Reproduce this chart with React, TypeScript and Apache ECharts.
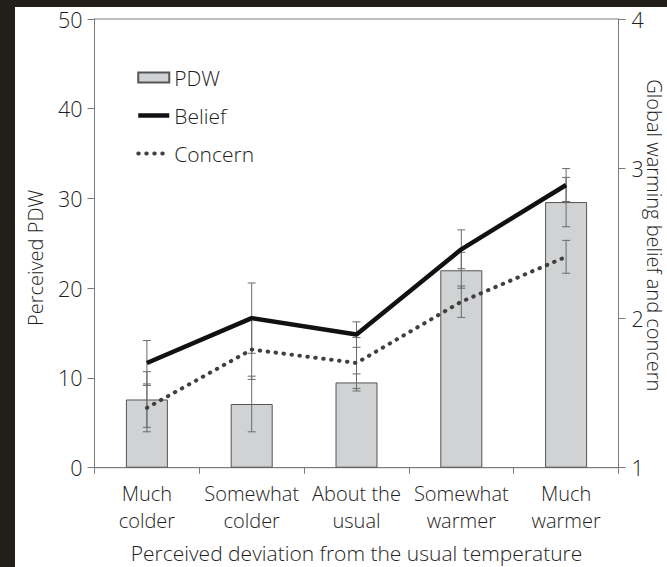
import React, { useEffect, useRef } from "react";
import * as echarts from "echarts";

const categories = ["Much\ncolder", "Somewhat\ncolder", "About the\nusual", "Somewhat\nwarmer", "Much\nwarmer"];
const pdwValues = [7.6, 7.1, 9.5, 22.0, 29.6];
const pdwErrors = [3.1, 3.1, 0.95, 2.0, 2.75];
const beliefValues = [1.7, 2.0, 1.89, 2.46, 2.89];
const beliefErrors = [0.15, 0.235, 0.085, 0.13, 0.11];
const concernValues = [1.4, 1.79, 1.7, 2.11, 2.41];
const concernErrors = [0.16, 0.2, 0.17, 0.105, 0.11];
const leftAxisRange = [0, 50, 10];
const rightAxisRange = [1, 4, 1];

const FONT = "'Open Sans', 'DejaVu Sans', sans-serif";
const TEXT = "#1e1e1e";
const AXIS = "#7a7a7a";

function errorSeries(name: string, values: number[], errors: number[], yAxisIndex: number) {
  return {
    type: "custom",
    name,
    yAxisIndex,
    z: 3,
    silent: true,
    data: values.map((v, i) => [i, v - errors[i], v + errors[i]]),
    encode: { x: 0, y: [1, 2] },
    renderItem: (params: any, api: any) => {
      const lo = api.coord([api.value(0), api.value(1)]);
      const hi = api.coord([api.value(0), api.value(2)]);
      const hw = 4;
      const style = { stroke: "#6a6a6a", lineWidth: 1 };
      return {
        type: "group",
        children: [
          { type: "line", shape: { x1: hi[0], y1: hi[1], x2: lo[0], y2: lo[1] }, style },
          { type: "line", shape: { x1: hi[0] - hw, y1: hi[1], x2: hi[0] + hw, y2: hi[1] }, style },
          { type: "line", shape: { x1: lo[0] - hw, y1: lo[1], x2: lo[0] + hw, y2: lo[1] }, style },
        ],
      };
    },
  };
}

export default function App() {
  const ref = useRef<HTMLDivElement>(null);
  useEffect(() => {
    if (!ref.current) return;
    const chart = echarts.init(ref.current, null, { renderer: "svg" });
    chart.setOption({
      animation: false,
      backgroundColor: "#ffffff",
      textStyle: { fontFamily: FONT },
      grid: {
        left: 94.5,
        right: 48.5,
        top: 19,
        bottom: 99.3,
        containLabel: false,
        outerBoundsMode: "none",
        show: true,
        borderColor: AXIS,
        borderWidth: 1,
      },
      legend: {
        data: [
          { name: "PDW", icon: "rect" },
          { name: "Belief", itemStyle: { opacity: 0 }, lineStyle: { width: 4.5, color: "#111" } },
          { name: "Concern", itemStyle: { opacity: 0 }, lineStyle: { width: 4, color: "#404040" } },
        ],
        orient: "vertical",
        left: 136,
        top: 67,
        padding: 0,
        itemWidth: 31,
        itemHeight: 10,
        itemGap: 17,
        textStyle: { fontSize: 21, color: TEXT, fontFamily: FONT, fontWeight: 300 },
      },
      xAxis: {
        type: "category",
        data: categories,
        boundaryGap: true,
        axisLine: { lineStyle: { color: AXIS, width: 1 } },
        axisTick: { show: true, length: 6, lineStyle: { color: AXIS } },
        axisLabel: {
          fontSize: 20,
          lineHeight: 27,
          color: TEXT,
          margin: 12,
          fontFamily: FONT,
          fontWeight: 300,
          interval: 0,
        },
        name: "Perceived deviation from the usual temperature",
        nameLocation: "middle",
        nameGap: 75,
        nameTextStyle: { fontSize: 21, color: TEXT, fontFamily: FONT, fontWeight: 300 },
      },
      yAxis: [
        {
          type: "value",
          min: leftAxisRange[0],
          max: leftAxisRange[1],
          interval: leftAxisRange[2],
          position: "left",
          splitLine: { show: false },
          axisLine: { show: true, lineStyle: { color: AXIS } },
          axisTick: { show: true, length: 7, lineStyle: { color: AXIS } },
          axisLabel: { fontSize: 21.5, color: TEXT, margin: 12, fontFamily: FONT, fontWeight: 300 },
          name: "Perceived PDW",
          nameLocation: "middle",
          nameGap: 49,
          nameTextStyle: { fontSize: 20, color: TEXT, fontFamily: FONT, fontWeight: 300, padding: [0, 29, 0, 0] },
        },
        {
          type: "value",
          min: rightAxisRange[0],
          max: rightAxisRange[1],
          interval: rightAxisRange[2],
          position: "right",
          splitLine: { show: false },
          axisLine: { show: true, lineStyle: { color: AXIS } },
          axisTick: { show: true, length: 7, lineStyle: { color: AXIS } },
          axisLabel: { fontSize: 21.5, color: TEXT, margin: 13, fontFamily: FONT, fontWeight: 300 },
          name: "Global warming belief and concern",
          nameLocation: "middle",
          nameRotate: -90,
          nameGap: 26,
          nameMoveOverlap: false,
          nameTextStyle: { fontSize: 20, color: TEXT, fontFamily: FONT, fontWeight: 300, padding: [0, 16, 0, 0] },
        },
      ],
      graphic: [
        { type: "rect", z: 100, shape: { x: 0, y: 0, width: 667, height: 7 }, style: { fill: "#221e1a" } },
        { type: "rect", z: 100, shape: { x: 0, y: 0, width: 15, height: 567 }, style: { fill: "#221e1a" } },
      ],
      series: [
        {
          name: "PDW",
          type: "bar",
          yAxisIndex: 0,
          data: pdwValues,
          barWidth: 42,
          z: 2,
          itemStyle: { color: "#d1d2d4", borderColor: "#555", borderWidth: 1 },
        },
        errorSeries("PDW error", pdwValues, pdwErrors, 0),
        errorSeries("Belief error", beliefValues, beliefErrors, 1),
        errorSeries("Concern error", concernValues, concernErrors, 1),
        {
          name: "Belief",
          type: "line",
          yAxisIndex: 1,
          data: beliefValues,
          symbol: "none",
          z: 5,
          lineStyle: { color: "#111", width: 4.5 },
          itemStyle: { color: "#111" },
        },
        {
          name: "Concern",
          type: "line",
          yAxisIndex: 1,
          data: concernValues,
          symbol: "none",
          z: 4,
          lineStyle: { color: "#404040", width: 4, type: [0.5, 7.5], cap: "round" },
          itemStyle: { color: "#404040" },
        },
      ],
    });
    return () => chart.dispose();
  }, []);
  return (
    <div
      ref={ref}
      style={{ position: "fixed", left: 0, top: 0, width: 667, height: 567, background: "#fff" }}
    />
  );
}
